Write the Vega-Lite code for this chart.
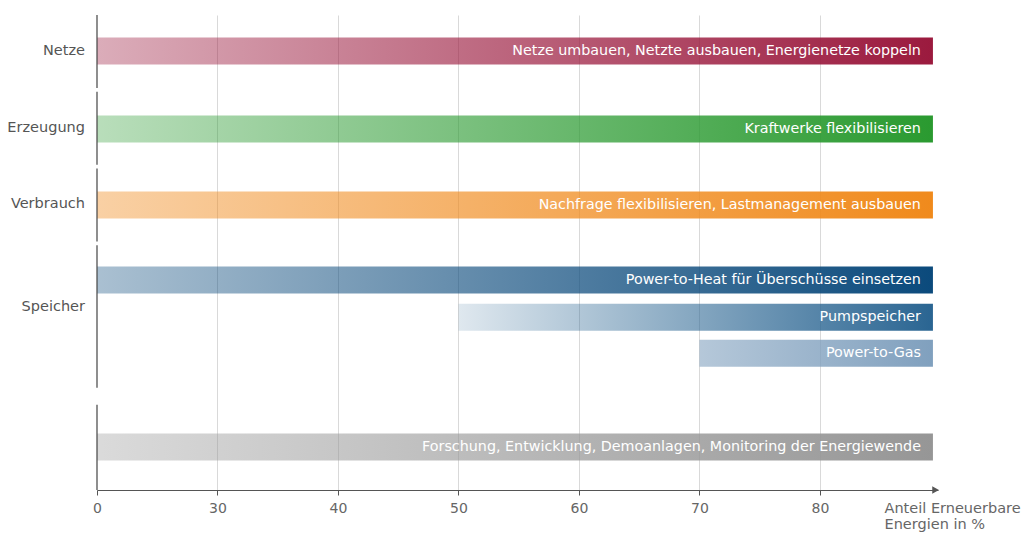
{
  "$schema": "https://vega.github.io/schema/vega-lite/v6.json",
  "width": 841,
  "height": 475,
  "autosize": "none",
  "padding": {"left": 97, "top": 15, "right": 84, "bottom": 44},
  "background": "white",
  "config": {"view": {"stroke": null}, "font": "DejaVu Sans"},
  "datasets": {
    "bars": [
      {"key": "netze", "start": 20, "end": 89.38, "pos": 0.985, "text": "Netze umbauen, Netzte ausbauen, Energienetze koppeln"},
      {"key": "erz", "start": 20, "end": 89.38, "pos": 3.12, "text": "Kraftwerke flexibilisieren"},
      {"key": "verb", "start": 20, "end": 89.38, "pos": 5.2, "text": "Nachfrage flexibilisieren, Lastmanagement ausbauen"},
      {"key": "pth", "start": 20, "end": 89.38, "pos": 7.25, "text": "Power-to-Heat für Überschüsse einsetzen"},
      {"key": "pump", "start": 50, "end": 89.38, "pos": 8.27, "text": "Pumpspeicher"},
      {"key": "ptg", "start": 70, "end": 89.38, "pos": 9.26, "text": "Power-to-Gas"},
      {"key": "fe", "start": 20, "end": 89.38, "pos": 11.82, "text": "Forschung, Entwicklung, Demoanlagen, Monitoring der Energiewende"}
    ],
    "cats": [
      {"label": "Netze", "pos": 0.985},
      {"label": "Erzeugung", "pos": 3.1},
      {"label": "Verbrauch", "pos": 5.17},
      {"label": "Speicher", "pos": 7.99}
    ],
    "vseg": [
      {"a": 0, "b": 2.0},
      {"a": 2.1, "b": 4.1},
      {"a": 4.2, "b": 6.2},
      {"a": 6.3, "b": 10.2},
      {"a": 10.67, "b": 13}
    ],
    "arrow": [{"v": 89.6, "p": 13}]
  },
  "layer": [
    {
      "data": {"name": "bars"},
      "mark": {"type": "bar", "height": 27},
      "encoding": {
        "x": {
          "field": "start", "type": "quantitative",
          "scale": {"domain": [20, 89.8], "nice": false, "zero": false, "padding": 0},
          "axis": {
            "values": [20, 30, 40, 50, 60, 70, 80],
            "labelExpr": "datum.value == 20 ? '0' : datum.label",
            "labelFlush": false,
            "labelColor": "#666666",
            "labelFontSize": 14,
            "labelPadding": 6,
            "tickColor": "#555555",
            "tickSize": 5,
            "domainColor": "#555555",
            "grid": true,
            "gridColor": "#d9d9d9",
            "gridOpacity": {"condition": {"test": "datum.value == 20", "value": 0}, "value": 1},
            "title": ["Anteil Erneuerbare", "Energien in %"],
            "titleFontSize": 14.5,
            "titleFontWeight": "normal",
            "titleColor": "#666666",
            "titleAlign": "left",
            "titleBaseline": "top",
            "titleAnchor": null,
            "titleX": 787,
            "titleY": 11,
            "titleLineHeight": 16
          }
        },
        "x2": {"field": "end"},
        "y": {"field": "pos", "type": "quantitative", "scale": {"domain": [0, 13], "reverse": true, "nice": false, "zero": false, "padding": 0}, "axis": null},
        "fill": {
          "condition": [
            {"test": "datum.key == 'netze'", "value": {"gradient": "linear", "x1": 0, "y1": 0, "x2": 1, "y2": 0, "stops": [{"offset": 0, "color": "rgba(155,26,62,0.36)"}, {"offset": 1, "color": "#9b1a3e"}]}},
            {"test": "datum.key == 'erz'", "value": {"gradient": "linear", "x1": 0, "y1": 0, "x2": 1, "y2": 0, "stops": [{"offset": 0, "color": "rgba(42,154,48,0.33)"}, {"offset": 1, "color": "#2a9a30"}]}},
            {"test": "datum.key == 'verb'", "value": {"gradient": "linear", "x1": 0, "y1": 0, "x2": 1, "y2": 0, "stops": [{"offset": 0, "color": "rgba(240,138,28,0.4)"}, {"offset": 1, "color": "#f08a1c"}]}},
            {"test": "datum.key == 'pth'", "value": {"gradient": "linear", "x1": 0, "y1": 0, "x2": 1, "y2": 0, "stops": [{"offset": 0, "color": "rgba(11,74,124,0.35)"}, {"offset": 1, "color": "#0b4a7c"}]}},
            {"test": "datum.key == 'pump'", "value": {"gradient": "linear", "x1": 0, "y1": 0, "x2": 1, "y2": 0, "stops": [{"offset": 0, "color": "rgba(42,101,146,0.15)"}, {"offset": 1, "color": "#2a6592"}]}},
            {"test": "datum.key == 'ptg'", "value": {"gradient": "linear", "x1": 0, "y1": 0, "x2": 1, "y2": 0, "stops": [{"offset": 0, "color": "rgba(128,160,190,0.58)"}, {"offset": 1, "color": "#80a0be"}]}}
          ],
          "value": {"gradient": "linear", "x1": 0, "y1": 0, "x2": 1, "y2": 0, "stops": [{"offset": 0, "color": "rgba(150,150,150,0.35)"}, {"offset": 1, "color": "#969696"}]}
        }
      }
    },
    {
      "data": {"name": "bars"},
      "mark": {"type": "text", "align": "right", "baseline": "middle", "dx": -12, "fontSize": 14.3, "color": "white"},
      "encoding": {
        "x": {"field": "end", "type": "quantitative"},
        "y": {"field": "pos", "type": "quantitative"},
        "text": {"field": "text"}
      }
    },
    {
      "data": {"name": "cats"},
      "mark": {"type": "text", "align": "right", "baseline": "middle", "dx": -12, "fontSize": 14.5, "color": "#555555", "clip": false},
      "encoding": {
        "x": {"datum": 20, "type": "quantitative"},
        "y": {"field": "pos", "type": "quantitative"},
        "text": {"field": "label"}
      }
    },
    {
      "data": {"name": "vseg"},
      "mark": {"type": "rule", "color": "#444444", "strokeWidth": 1.2},
      "encoding": {
        "x": {"datum": 20, "type": "quantitative"},
        "y": {"field": "a", "type": "quantitative"},
        "y2": {"field": "b"}
      }
    },
    {
      "data": {"name": "arrow"},
      "mark": {"type": "point", "shape": "triangle-right", "filled": true, "size": 60, "color": "#555555", "opacity": 1, "clip": false},
      "encoding": {
        "x": {"field": "v", "type": "quantitative"},
        "y": {"field": "p", "type": "quantitative"}
      }
    }
  ]
}
